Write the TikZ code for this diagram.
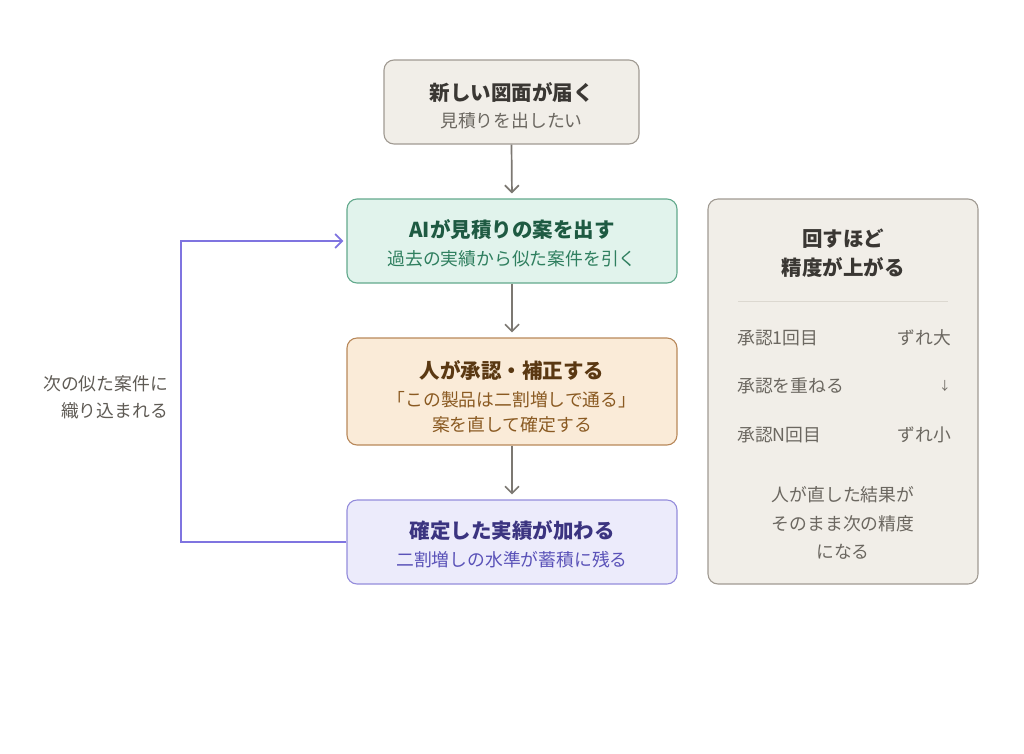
\documentclass[tikz,border=0pt]{standalone}
\usepackage{fontspec}
\setmainfont{Noto Sans CJK JP}
\usetikzlibrary{arrows.meta}
\definecolor{neutralfill}{HTML}{F1EEE8}
\definecolor{neutraldraw}{HTML}{A09A92}
\definecolor{neutraltitle}{HTML}{3A3733}
\definecolor{neutralsub}{HTML}{6B6760}
\definecolor{greenfill}{HTML}{E1F3EC}
\definecolor{greendraw}{HTML}{62A98C}
\definecolor{greentitle}{HTML}{1E5A42}
\definecolor{greensub}{HTML}{2F7F5F}
\definecolor{orangefill}{HTML}{FAEBD8}
\definecolor{orangedraw}{HTML}{B8885A}
\definecolor{orangetitle}{HTML}{5A3812}
\definecolor{orangesub}{HTML}{8A5A22}
\definecolor{purplefill}{HTML}{ECEBFB}
\definecolor{purpledraw}{HTML}{948CDB}
\definecolor{purpletitle}{HTML}{3B3480}
\definecolor{purplesub}{HTML}{5A52B8}
\definecolor{loopline}{HTML}{7F74E0}
\definecolor{arrowgray}{HTML}{7C7872}
\definecolor{dividergray}{HTML}{DCD8D0}
\definecolor{panelrow}{HTML}{6B6760}
\definecolor{labelgray}{HTML}{5F5B55}
\tikzset{
  x=1pt, y=-1pt,
  box/.style={draw, rounded corners=10pt, line width=1.1pt, inner sep=0pt},
  titletext/.style={font=\fontsize{20.5}{24}\selectfont\bfseries, inner sep=0pt},
  subtext/.style={font=\fontsize{17.8}{21}\selectfont, inner sep=0pt},
  flowarrow/.style={draw=arrowgray, line width=1.7pt, -{Straight Barb[length=7pt,width=14pt,line width=1.7pt]}, shorten >=5pt},
  looparrow/.style={draw=loopline, line width=1.8pt, -{Straight Barb[length=7pt,width=14pt,line width=1.8pt]}, shorten >=3pt},
}
\begin{document}
\begin{tikzpicture}
\useasboundingbox (0,0) rectangle (1024,753);
% boxes
\node[box, fill=neutralfill, draw=neutraldraw, minimum width=255pt, minimum height=84pt] (b1) at (511.5,102) {};
\node[box, fill=greenfill, draw=greendraw, minimum width=330pt, minimum height=84pt] (b2) at (512,241) {};
\node[box, fill=orangefill, draw=orangedraw, minimum width=330pt, minimum height=107pt] (b3) at (512,391.5) {};
\node[box, fill=purplefill, draw=purpledraw, minimum width=330pt, minimum height=84pt] (b4) at (512,542) {};
\node[box, fill=neutralfill, draw=neutraldraw, minimum width=270pt, minimum height=385pt] (panel) at (843,391.5) {};
% texts in boxes
\node[titletext, text=neutraltitle] (t1) at (511.5,92) {新しい図面が届く};
\node[subtext, text=neutralsub] (s1) at (511.5,121) {見積りを出したい};
\node[titletext, text=greentitle] (t2) at (512,230) {AIが見積りの案を出す};
\node[subtext, text=greensub] (s2) at (512,259) {過去の実績から似た案件を引く};
\node[titletext, text=orangetitle] (t3) at (512,370) {人が承認・補正する};
\node[subtext, text=orangesub] (s3a) at (512,400) {「この製品は二割増しで通る」};
\node[subtext, text=orangesub] (s3b) at (512,425) {案を直して確定する};
\node[titletext, text=purpletitle] (t4) at (512,531) {確定した実績が加わる};
\node[subtext, text=purplesub] (s4) at (512,560) {二割増しの水準が蓄積に残る};
% panel
\node[titletext, text=neutraltitle] (pt1) at (843,239) {回すほど};
\node[titletext, text=neutraltitle] (pt2) at (843,268) {精度が上がる};
\coordinate (dl) at (738,301);
\coordinate (dr) at (948,301);
\draw[dividergray, line width=1pt] (dl) -- (dr);
\node[subtext, text=panelrow, anchor=west] (r1l) at (737,338) {承認1回目};
\node[subtext, text=panelrow, anchor=east] (r1r) at (951,338) {ずれ大};
\node[subtext, text=panelrow, anchor=west] (r2l) at (737,386) {承認を重ねる};
\node[subtext, text=panelrow, anchor=east, font=\fontsize{12}{14}\selectfont] (r2r) at (951,386) {↓};
\node[subtext, text=panelrow, anchor=west] (r3l) at (737,435) {承認N回目};
\node[subtext, text=panelrow, anchor=east] (r3r) at (951,435) {ずれ小};
\node[subtext, text=panelrow] (pb1) at (843,495) {人が直した結果が};
\node[subtext, text=panelrow] (pb2) at (843,524) {そのまま次の精度};
\node[subtext, text=panelrow] (pb3) at (843,552) {になる};
% flow arrows
\draw[flowarrow] (b1.south) -- (b2.north);
\draw[flowarrow] (b2.south) -- (b3.north);
\draw[flowarrow] (b3.south) -- (b4.north);
% loop
\coordinate (lb) at (181,542);
\coordinate (lt) at (181,241);
\draw[looparrow] (b4.west) -- (lb) -- (lt) -- (b2.west);
\node[subtext, text=labelgray, anchor=east] (l1) at (168,384) {次の似た案件に};
\node[subtext, text=labelgray, anchor=east] (l2) at (168,411) {織り込まれる};
\end{tikzpicture}
\end{document}
